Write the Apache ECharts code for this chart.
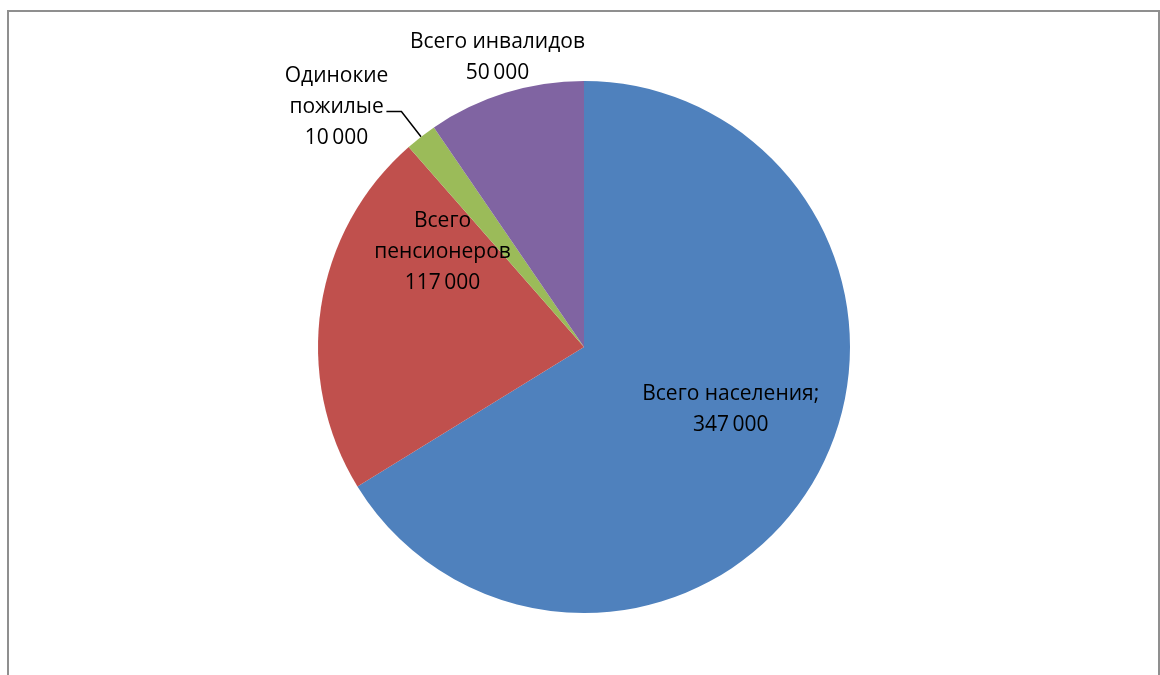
<!DOCTYPE html>
<html>
<head>
<meta charset="utf-8">
<script src="https://cdn.jsdelivr.net/npm/echarts@6/dist/echarts.min.js"></script>
<style>
  html, body { margin: 0; padding: 0; background: #fff; }
  #chart { width: 1160px; height: 675px; }
</style>
</head>
<body>
<div id="chart"></div>
<script>
// Population groups and their counts
const categories = ['Всего населения', 'Всего пенсионеров', 'Одинокие пожилые', 'Всего инвалидов'];
const values = [347000, 117000, 10000, 50000];
const labelTexts = ['Всего населения;', 'Всего\nпенсионеров', 'Одинокие\nпожилые', 'Всего инвалидов'];
const colors = ['#4F81BD', '#C0504D', '#9BBB59', '#8064A2'];

// Label nudges relative to the default label placement
const labelShift = [
  { dx: 28, dy: -4 },
  { dx: -7, dy: -75 },
  { dx: 2, dy: -4 },
  { dx: 3, dy: 0 }
];

function fmt(v) {
  return String(v).replace(/\B(?=(\d{3})+(?!\d))/g, '\u2009');
}

const chart = echarts.init(document.getElementById('chart'));

const font = { fontFamily: 'Open Sans', fontSize: 21, color: '#000', lineHeight: 31 };

const data = categories.map((name, i) => {
  const item = { name: name, value: values[i], itemStyle: { color: colors[i] } };
  if (i < 2) {
    item.label = { position: 'inside' };
    item.labelLine = { show: false };
  } else if (i === 2) {
    item.label = { position: 'outside' };
    item.labelLine = { show: true, length: 32, length2: 15, smooth: false,
      lineStyle: { color: '#000', width: 1.5 } };
  } else {
    item.label = { position: 'outside' };
    item.labelLine = { show: false };
  }
  return item;
});

chart.setOption({
  animation: false,
  backgroundColor: '#fff',
  graphic: [{
    type: 'rect',
    shape: { x: 8, y: 11, width: 1151, height: 700 },
    style: { fill: 'none', stroke: '#8f8f8f', lineWidth: 2 },
    silent: true
  }],
  series: [{
    type: 'pie',
    center: [584, 347],
    radius: 266,
    startAngle: 90,
    clockwise: true,
    avoidLabelOverlap: false,
    itemStyle: { borderWidth: 0 },
    label: Object.assign({
      show: true,
      align: 'center',
      formatter: p => labelTexts[p.dataIndex] + '\n' + fmt(p.value)
    }, font),
    emphasis: { disabled: true },
    labelLayout: function (p) {
      const i = p.dataIndex;
      const r = p.labelRect;
      if (i === 2) {
        // keep the leader line and set the text block to the left of its end
        const pts = p.labelLinePoints;
        const end = pts[pts.length - 1];
        return {
          x: end[0] - r.width / 2 + labelShift[i].dx,
          y: end[1] + labelShift[i].dy,
          align: 'center',
          verticalAlign: 'middle',
          labelLinePoints: pts
        };
      }
      if (i === 3) {
        // place above the purple slice, along its mid-angle
        const a = (90 - (values[0] + values[1] + values[2] + values[3] / 2) /
          values.reduce((s, v) => s + v, 0) * 360) * Math.PI / 180;
        const dist = 266 * 1.14;
        return {
          x: 584 + Math.cos(a) * dist + labelShift[i].dx,
          y: 347 - Math.sin(a) * dist + labelShift[i].dy,
          align: 'center',
          verticalAlign: 'middle'
        };
      }
      return { dx: labelShift[i].dx, dy: labelShift[i].dy };
    },
    data: data
  }]
});
</script>
</body>
</html>
